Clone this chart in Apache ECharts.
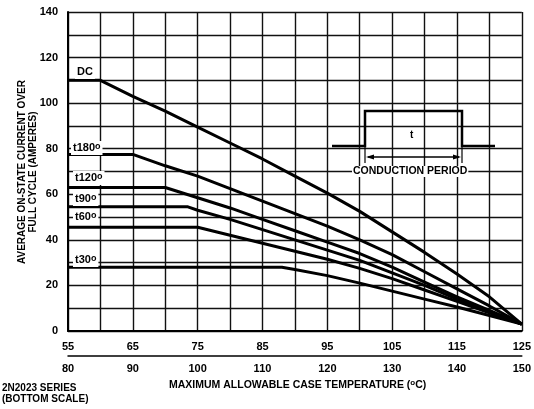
<!DOCTYPE html>
<html>
<head>
<meta charset="utf-8">
<script src="https://cdn.jsdelivr.net/npm/echarts@6/dist/echarts.min.js"></script>
<style>html,body{margin:0;padding:0;background:#fff;}#c{width:534px;height:409px;}</style>
</head>
<body>
<div id="c"></div>
<script>
// Top scale: case temperature (°C), main series; bottom scale is 2N2023 series (+25)
const topTicks = [55, 65, 75, 85, 95, 105, 115, 125];
const bottomTicks = [80, 90, 100, 110, 120, 130, 140, 150];
const yTicks = [0, 20, 40, 60, 80, 100, 120, 140];

const dcTemp   = [55, 60, 65, 70, 75, 80, 85, 90, 95, 100, 105, 110, 115, 120, 125];
const dcAmps   = [110, 110, 103, 96.5, 89.5, 82.5, 75.5, 68, 60.5, 52.5, 43.5, 34.5, 25, 15, 3];
const c180Temp = [55, 65, 70, 75, 80, 85, 90, 95, 100, 105, 110, 115, 120, 125];
const c180Amps = [77.5, 77.5, 72.5, 68, 62.5, 57, 51.5, 46, 40, 33.5, 26, 18.5, 11, 3];
const c120Temp = [55, 70, 75, 80, 85, 90, 95, 100, 105, 110, 115, 120, 125];
const c120Amps = [63, 63, 58.5, 54, 49, 44, 39, 34, 28, 21.5, 15, 9, 3];
const c90Temp  = [55, 73.5, 75, 80, 85, 90, 95, 100, 105, 110, 115, 120, 125];
const c90Amps  = [54.5, 54.5, 53, 49, 44.5, 40, 35.5, 31, 25.5, 20, 14, 8.5, 3];
const c60Temp  = [55, 75, 80, 85, 90, 95, 100, 105, 110, 115, 120, 125];
const c60Amps  = [45.5, 45.5, 42, 38.5, 35, 31.5, 27.5, 23, 18, 13, 8, 3];
const c30Temp  = [55, 88, 90, 95, 100, 105, 110, 115, 120, 125];
const c30Amps  = [28, 28, 27, 24.3, 21, 17.5, 14, 10.5, 6.8, 3];

const curveLabels = ['DC', 't180', 't120', 't90', 't60', 't30'];

const FONT = '"Liberation Sans", Arial, Helvetica, sans-serif';
const zip = (a, b) => a.map((v, i) => [v, b[i]]);

const chart = echarts.init(document.getElementById('c'), null, {renderer: 'canvas'});

function mkSeries(name, t, a) {
  return {
    name, type: 'line', xAxisIndex: 0, yAxisIndex: 0,
    data: zip(t, a), showSymbol: false, symbol: 'none', smooth: false,
    lineStyle: {color: '#000', width: 3}, z: 5, silent: true
  };
}

function curveLabel(txt, x, y, deg) {
  const rich = {
    n: {font: 'bold 11px ' + FONT, fill: '#000', lineHeight: 12},
    s: {font: 'bold 9px ' + FONT, fill: '#000', verticalAlign: 'top', lineHeight: 12}
  };
  return {
    type: 'text', left: x, top: y - 7, z: 20,
    style: {
      text: deg ? '{n|' + txt + '}{s|o}' : '{n|' + txt + '}',
      rich, backgroundColor: '#fff', padding: [1, 2, 1, 2], fill: '#000', font: 'bold 11px ' + FONT
    }
  };
}

const option = {
  backgroundColor: '#fff',
  animation: false,
  grid: {left: 68, right: 9, top: 12, bottom: 78, show: false},
  xAxis: [
    {
      type: 'value', min: 55, max: 125, interval: 5, position: 'bottom',
      axisLine: {show: true, lineStyle: {color: '#000', width: 2}},
      axisTick: {show: false},
      splitLine: {show: true, lineStyle: {color: '#111', width: 1.4}},
      axisLabel: {
        margin: 10, color: '#000', fontFamily: FONT, fontWeight: 'bold', fontSize: 11,
        formatter: v => topTicks.includes(v) ? String(v) : ''
      }
    },
    {
      type: 'value', min: 80, max: 150, interval: 10, position: 'bottom', offset: 25,
      axisLine: {show: true, lineStyle: {color: '#000', width: 1.5}},
      axisTick: {show: false},
      splitLine: {show: false},
      axisLabel: {
        margin: 7, color: '#000', fontFamily: FONT, fontWeight: 'bold', fontSize: 11,
        formatter: v => bottomTicks.includes(v) ? String(v) : ''
      }
    }
  ],
  yAxis: {
    type: 'value', min: 0, max: 140, interval: 10,
    axisLine: {show: true, lineStyle: {color: '#000', width: 2}},
    axisTick: {show: false},
    splitLine: {show: true, lineStyle: {color: '#111', width: 1.4}},
    axisLabel: {
      margin: 10, color: '#000', fontFamily: FONT, fontWeight: 'bold', fontSize: 11,
      formatter: v => yTicks.includes(v) ? String(v) : ''
    }
  },
  series: [
    mkSeries('DC', dcTemp, dcAmps),
    mkSeries('180', c180Temp, c180Amps),
    mkSeries('120', c120Temp, c120Amps),
    mkSeries('90', c90Temp, c90Amps),
    mkSeries('60', c60Temp, c60Amps),
    mkSeries('30', c30Temp, c30Amps)
  ],
  graphic: [
    // curve labels
    curveLabel(curveLabels[0], 75, 72, false),
    curveLabel(curveLabels[1], 71, 148, true),
    curveLabel(curveLabels[2], 73, 178, true),
    curveLabel(curveLabels[3], 73, 199, true),
    curveLabel(curveLabels[4], 73, 217, true),
    curveLabel(curveLabels[5], 73, 260, true),
    // inset waveform
    {
      type: 'polyline', z: 15,
      shape: {points: [[332, 146], [365, 146], [365, 111], [462, 111], [462, 146], [495, 146]]},
      style: {stroke: '#000', lineWidth: 2.5, fill: null}
    },
    {type: 'line', z: 15, shape: {x1: 365, y1: 146, x2: 365, y2: 163}, style: {stroke: '#000', lineWidth: 1.2}},
    {type: 'line', z: 15, shape: {x1: 462, y1: 146, x2: 462, y2: 163}, style: {stroke: '#000', lineWidth: 1.2}},
    {type: 'line', z: 15, shape: {x1: 368, y1: 157, x2: 459, y2: 157}, style: {stroke: '#000', lineWidth: 1.5}},
    {type: 'polygon', z: 15, shape: {points: [[366, 157], [374, 154.5], [374, 159.5]]}, style: {fill: '#000'}},
    {type: 'polygon', z: 15, shape: {points: [[461, 157], [453, 154.5], [453, 159.5]]}, style: {fill: '#000'}},
    {
      type: 'text', z: 16, left: 409, top: 130,
      style: {text: 't', font: 'bold 10px ' + FONT, fill: '#000', backgroundColor: '#fff', padding: [0, 1]}
    },
    {
      type: 'text', z: 16, left: 352, top: 166,
      style: {text: 'CONDUCTION PERIOD', font: 'bold 10.5px ' + FONT, fill: '#000', backgroundColor: '#fff', padding: [0, 1]}
    },
    // axis title (x)
    {
      type: 'text', z: 16, left: 169, top: 379,
      style: {
        text: '{n|MAXIMUM ALLOWABLE CASE TEMPERATURE (}{s|o}{n|C)}',
        rich: {
          n: {font: 'bold 10.5px ' + FONT, fill: '#000', lineHeight: 13},
          s: {font: 'bold 8px ' + FONT, fill: '#000', verticalAlign: 'top', lineHeight: 13}
        }
      }
    },
    // series note
    {
      type: 'text', z: 16, left: 2, top: 383,
      style: {text: '2N2023 SERIES\n(BOTTOM SCALE)', font: 'bold 10px ' + FONT, fill: '#000', lineHeight: 10.5}
    },
    // axis title (y)
    {
      type: 'text', z: 16, x: 28, y: 172, rotation: Math.PI / 2,
      style: {
        text: 'AVERAGE ON-STATE CURRENT OVER\nFULL CYCLE (AMPERES)',
        font: 'bold 10px ' + FONT, fill: '#000', align: 'center', verticalAlign: 'middle', lineHeight: 11
      }
    }
  ]
};
chart.setOption(option);
</script>
</body>
</html>
